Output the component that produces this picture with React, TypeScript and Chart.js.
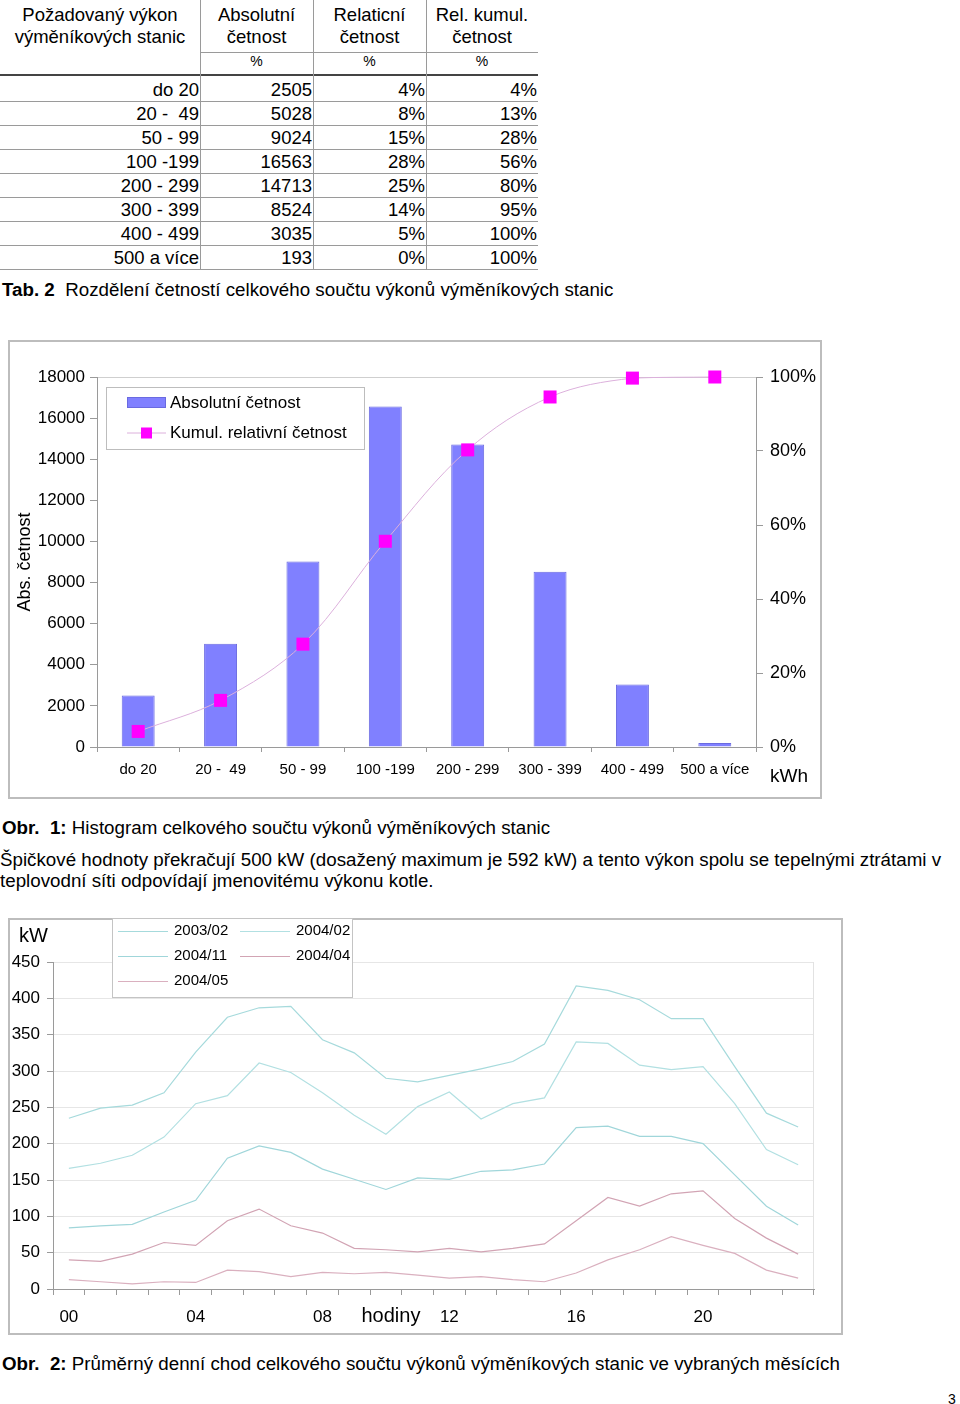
import React, { useEffect, useRef } from 'react';
import { Chart, registerables } from 'chart.js';

Chart.register(...registerables);

const FONT = "'Liberation Sans', Arial, Helvetica, sans-serif";

// ---------- Table / histogram data ----------
const tableHeaders = [
  ['Požadovaný výkon', 'výměníkových stanic'],
  ['Absolutní', 'četnost'],
  ['Relaticní', 'četnost'],
  ['Rel. kumul.', 'četnost'],
];
const tableUnits = ['', '%', '%', '%'];
const powerClasses = ['do 20', '20 -  49', '50 - 99', '100 -199', '200 - 299', '300 - 399', '400 - 499', '500 a více'];
const absoluteCounts = [2505, 5028, 9024, 16563, 14713, 8524, 3035, 193];
const relativePct = [4, 8, 15, 28, 25, 14, 5, 0];
const cumulativePct = [4, 13, 28, 56, 80, 95, 100, 100];
const cumulativeLine = [4.2, 12.6, 27.8, 55.6, 80.3, 94.6, 99.7, 100];
const histSeriesNames = ['Absolutní četnost', 'Kumul. relativní četnost'];

// ---------- Daily load data ----------
const hours = ['00', '01', '02', '03', '04', '05', '06', '07', '08', '09', '10', '11',
  '12', '13', '14', '15', '16', '17', '18', '19', '20', '21', '22', '23'];
const load2003_02 = [235, 249, 253, 270, 326, 374, 387, 389, 343, 325, 290, 285, 294, 303, 313, 337, 417, 411, 398, 372, 372, 306, 242, 223];
const load2004_02 = [166, 173, 184, 209, 255, 266, 311, 298, 270, 239, 213, 251, 271, 234, 255, 263, 340, 338, 308, 302, 306, 255, 192, 171];
const load2004_11 = [84, 87, 89, 106, 122, 180, 197, 188, 165, 151, 137, 153, 151, 162, 164, 172, 222, 224, 210, 210, 200, 157, 114, 88];
const load2004_04 = [40, 38, 48, 64, 60, 94, 110, 87, 77, 56, 54, 51, 56, 51, 56, 62, 94, 126, 114, 131, 135, 97, 70, 48];
const load2004_05 = [13, 10, 7, 10, 9, 26, 24, 17, 23, 21, 23, 19, 15, 17, 13, 10, 22, 40, 54, 72, 60, 49, 26, 15];
const loadNames = ['2003/02', '2004/02', '2004/11', '2004/04', '2004/05'];
const loadSeries = [load2003_02, load2004_02, load2004_11, load2004_04, load2004_05];
const loadColors = ['#a6dadc', '#b2e0e2', '#a0d6da', '#d2a4b4', '#dab0bf'];

const GRAY = '#9a9a9a';

function HistogramChart() {
  const ref = useRef<HTMLCanvasElement | null>(null);
  useEffect(() => {
    if (!ref.current) return;
    const overlay = {
      id: 'histOverlay',
      afterDraw(chart: any) {
        const ctx = chart.ctx;
        const { left, top, right, bottom } = chart.chartArea;
        ctx.save();
        ctx.fillStyle = '#000';
        // y title
        ctx.save();
        ctx.translate(17, (top + bottom) / 2);
        ctx.rotate(-Math.PI / 2);
        ctx.font = `18px ${FONT}`;
        ctx.textAlign = 'center';
        ctx.textBaseline = 'middle';
        ctx.fillText('Abs. četnost', 0, 0);
        ctx.restore();
        // unit
        ctx.font = `19px ${FONT}`;
        ctx.textAlign = 'left';
        ctx.textBaseline = 'middle';
        ctx.fillText('kWh', right + 14, bottom + 30);
        // legend
        const lx = left + 9, ly = top + 10, lw = 258, lh = 62;
        ctx.fillStyle = '#fff';
        ctx.fillRect(lx, ly, lw, lh);
        ctx.strokeStyle = '#bdbdbd';
        ctx.lineWidth = 1;
        ctx.strokeRect(lx + 0.5, ly + 0.5, lw, lh);
        ctx.fillStyle = '#8080ff';
        ctx.fillRect(lx + 21, ly + 10, 39, 11);
        ctx.strokeStyle = '#6a6ae0';
        ctx.strokeRect(lx + 21.5, ly + 10.5, 38, 10);
        ctx.strokeStyle = '#dcb0dc';
        ctx.beginPath();
        ctx.moveTo(lx + 21, ly + 46);
        ctx.lineTo(lx + 60, ly + 46);
        ctx.stroke();
        ctx.fillStyle = '#ff00ff';
        ctx.fillRect(lx + 35, ly + 40.5, 11, 11);
        ctx.fillStyle = '#000';
        ctx.font = `17px ${FONT}`;
        ctx.fillText(histSeriesNames[0], lx + 64, ly + 16);
        ctx.fillText(histSeriesNames[1], lx + 64, ly + 46);
        ctx.restore();
      },
    };
    const chart = new Chart(ref.current, {
      type: 'bar',
      data: {
        labels: powerClasses,
        datasets: [
          {
            type: 'line',
            label: histSeriesNames[1],
            data: cumulativeLine,
            yAxisID: 'y2',
            borderColor: '#dcb0dc',
            borderWidth: 1,
            tension: 0.35,
            pointStyle: 'rect',
            pointRadius: 9.2,
            pointBackgroundColor: '#ff00ff',
            pointBorderWidth: 0,
            order: 0,
            clip: false,
          } as any,
          {
            type: 'bar',
            label: histSeriesNames[0],
            data: absoluteCounts,
            yAxisID: 'y',
            backgroundColor: '#8080ff',
            borderColor: '#6a6ae0',
            borderWidth: 1,
            categoryPercentage: 1,
            barPercentage: 0.4,
            order: 1,
          } as any,
        ],
      },
      options: {
        responsive: false,
        animation: false,
        layout: { padding: { top: 37, left: 0, right: 0, bottom: 0 } },
        plugins: { legend: { display: false }, tooltip: { enabled: false } },
        scales: {
          x: {
            grid: { offset: true, drawOnChartArea: false, tickLength: 5, tickColor: GRAY },
            border: { color: GRAY },
            ticks: { font: { family: FONT, size: 15 }, color: '#000', padding: 9, autoSkip: false, maxRotation: 0 },
            afterFit: (s: any) => { s.height = 52; },
          },
          y: {
            position: 'left',
            min: 0,
            max: 18000,
            ticks: { stepSize: 2000, callback: (v: any) => String(v), font: { family: FONT, size: 17 }, color: '#000', padding: 5 },
            grid: {
              color: (c: any) => (c.tick && c.tick.value === 18000 ? '#cfcfcf' : 'rgba(0,0,0,0)'),
              tickColor: GRAY,
              tickLength: 7,
            },
            border: { color: GRAY },
            afterFit: (s: any) => { s.width = 89; },
          },
          y2: {
            position: 'right',
            min: 0,
            max: 100,
            ticks: { stepSize: 20, callback: (v: any) => v + '%', font: { family: FONT, size: 18 }, color: '#000', padding: 7 },
            grid: { drawOnChartArea: false, tickColor: GRAY, tickLength: 7 },
            border: { color: GRAY },
            afterFit: (s: any) => { s.width = 66; },
          },
        },
      } as any,
      plugins: [overlay],
    });
    return () => chart.destroy();
  }, []);
  return <canvas ref={ref} width={814} height={459} style={{ position: 'absolute', left: 8, top: 340 }} />;
}

function LoadChart() {
  const ref = useRef<HTMLCanvasElement | null>(null);
  useEffect(() => {
    if (!ref.current) return;
    const overlay = {
      id: 'loadOverlay',
      afterDraw(chart: any) {
        const ctx = chart.ctx;
        const { top, right, bottom } = chart.chartArea;
        ctx.save();
        ctx.strokeStyle = '#e2e2e2';
        ctx.lineWidth = 1;
        ctx.beginPath();
        ctx.moveTo(right - 0.5, top);
        ctx.lineTo(right - 0.5, bottom);
        ctx.stroke();
        ctx.fillStyle = '#000';
        ctx.textBaseline = 'middle';
        ctx.textAlign = 'left';
        ctx.font = `20px ${FONT}`;
        ctx.fillText('kW', 11, 18);
        ctx.textAlign = 'center';
        const xs = chart.scales.x;
        ctx.fillText('hodiny', xs.getPixelForValue(10) + 5, bottom + 27);
        // legend
        const lx = 104, ly = 0, lw = 240, lh = 79;
        ctx.fillStyle = '#fff';
        ctx.fillRect(lx, ly, lw, lh);
        ctx.strokeStyle = '#c4c4c4';
        ctx.strokeRect(lx + 0.5, ly + 0.5, lw, lh);
        ctx.font = `15px ${FONT}`;
        ctx.textAlign = 'left';
        const pos = [[0, 0], [1, 0], [0, 1], [1, 1], [0, 2]];
        const order = [0, 1, 2, 3, 4];
        order.forEach((si, k) => {
          const [col, row] = pos[k];
          const x0 = lx + 6 + col * 122;
          const y0 = ly + 13 + row * 25;
          ctx.strokeStyle = loadColors[si];
          ctx.lineWidth = 1;
          ctx.beginPath();
          ctx.moveTo(x0, y0 + 0.5);
          ctx.lineTo(x0 + 50, y0 + 0.5);
          ctx.stroke();
          ctx.fillStyle = '#000';
          ctx.fillText(loadNames[si], x0 + 56, y0);
        });
        ctx.restore();
      },
    };
    const legendOrder = [0, 1, 2, 3, 4];
    const chart = new Chart(ref.current, {
      type: 'line',
      data: {
        labels: hours,
        datasets: legendOrder.map((i) => ({
          label: loadNames[i],
          data: loadSeries[i],
          borderColor: loadColors[i],
          borderWidth: 1.2,
          pointRadius: 0,
          tension: 0,
          fill: false,
        })),
      },
      options: {
        responsive: false,
        animation: false,
        layout: { padding: { top: 44, right: 28, left: 0, bottom: 0 } },
        plugins: { legend: { display: false }, tooltip: { enabled: false } },
        scales: {
          x: {
            offset: true,
            grid: { offset: true, drawOnChartArea: false, tickLength: 6, tickColor: GRAY },
            border: { color: GRAY },
            ticks: {
              autoSkip: false,
              maxRotation: 0,
              callback: (_v: any, i: number) => (i % 4 === 0 ? hours[i] : ''),
              font: { family: FONT, size: 17 },
              color: '#000',
              padding: 12,
            },
            afterFit: (s: any) => { s.height = 45; },
          },
          y: {
            min: 0,
            max: 450,
            ticks: { stepSize: 50, font: { family: FONT, size: 17 }, color: '#000', padding: 7 },
            grid: { color: '#e6e6e6', tickColor: GRAY, tickLength: 6 },
            border: { color: GRAY },
            afterFit: (s: any) => { s.width = 45; },
          },
        },
      } as any,
      plugins: [overlay],
    });
    return () => chart.destroy();
  }, []);
  return <canvas ref={ref} width={834} height={416} style={{ position: 'absolute', left: 8, top: 918 }} />;
}

function DataTable() {
  const colLeft = [0, 200, 313, 426];
  const colWidth = [200, 113, 113, 112];
  const rows = powerClasses.map((p, i) => [p, String(absoluteCounts[i]), relativePct[i] + '%', cumulativePct[i] + '%']);
  const line = (style: React.CSSProperties, k: string) => <div key={k} style={{ position: 'absolute', ...style }} />;
  return (
    <div style={{ position: 'absolute', left: 0, top: 0, width: 540, height: 272, fontSize: 18.5 }}>
      {tableHeaders.map((h, c) => (
        <div key={'h' + c} style={{ position: 'absolute', left: colLeft[c], top: 4, width: colWidth[c], textAlign: 'center', lineHeight: '22px' }}>
          <div>{h[0]}</div>
          <div>{h[1]}</div>
        </div>
      ))}
      {tableUnits.map((u, c) => (
        <div key={'u' + c} style={{ position: 'absolute', left: colLeft[c], top: 52, width: colWidth[c], textAlign: 'center', lineHeight: '18px', fontSize: 14 }}>{u}</div>
      ))}
      {line({ left: 200, top: 52, width: 338, height: 1, background: GRAY }, 'hl')}
      {line({ left: 0, top: 74, width: 538, height: 2, background: '#444' }, 'tl')}
      {rows.map((r, i) => (
        <React.Fragment key={'r' + i}>
          {r.map((t, c) => (
            <div key={c} style={{ position: 'absolute', left: colLeft[c], top: 78 + 24 * i, width: colWidth[c] - 1, textAlign: 'right', lineHeight: '24px', whiteSpace: 'pre' }}>{t}</div>
          ))}
          {line({ left: 0, top: 101 + 24 * i, width: 538, height: 1, background: GRAY }, 'rl' + i)}
        </React.Fragment>
      ))}
      {[200, 313, 426].map((x) => line({ left: x, top: 0, width: 1, height: 270, background: GRAY }, 'v' + x))}
    </div>
  );
}

function Caption({ top, bold, text }: { top: number; bold: string; text: string }) {
  return (
    <div style={{ position: 'absolute', left: 2, top, fontSize: 18.75, lineHeight: '22px', whiteSpace: 'pre' }}>
      <b>{bold}</b>{text}
    </div>
  );
}

export default function App() {
  return (
    <div style={{ position: 'absolute', left: 0, top: 0, width: 960, height: 1404, background: '#fff', fontFamily: FONT, color: '#000' }}>
      <DataTable />
      <Caption top={279} bold="Tab. 2" text="  Rozdělení četností celkového součtu výkonů výměníkových stanic" />
      <div style={{ position: 'absolute', left: 8, top: 340, width: 814, height: 459, border: '2px solid #bdbdbd', boxSizing: 'border-box' }} />
      <HistogramChart />
      <Caption top={817} bold="Obr.  1:" text=" Histogram celkového součtu výkonů výměníkových stanic" />
      <div style={{ position: 'absolute', left: 0, top: 849, width: 960, fontSize: 18.75, lineHeight: '21px' }}>
        <div style={{ whiteSpace: 'nowrap' }}>Špičkové hodnoty překračují 500 kW (dosažený maximum je 592 kW) a tento výkon spolu se tepelnými ztrátami v</div>
        <div style={{ whiteSpace: 'nowrap' }}>teplovodní síti odpovídají jmenovitému výkonu kotle.</div>
      </div>
      <div style={{ position: 'absolute', left: 8, top: 918, width: 835, height: 417, border: '2px solid #bdbdbd', boxSizing: 'border-box' }} />
      <LoadChart />
      <Caption top={1353} bold="Obr.  2:" text=" Průměrný denní chod celkového součtu výkonů výměníkových stanic ve vybraných měsících" />
      <div style={{ position: 'absolute', left: 948, top: 1391, fontSize: 14, lineHeight: '16px' }}>3</div>
    </div>
  );
}
